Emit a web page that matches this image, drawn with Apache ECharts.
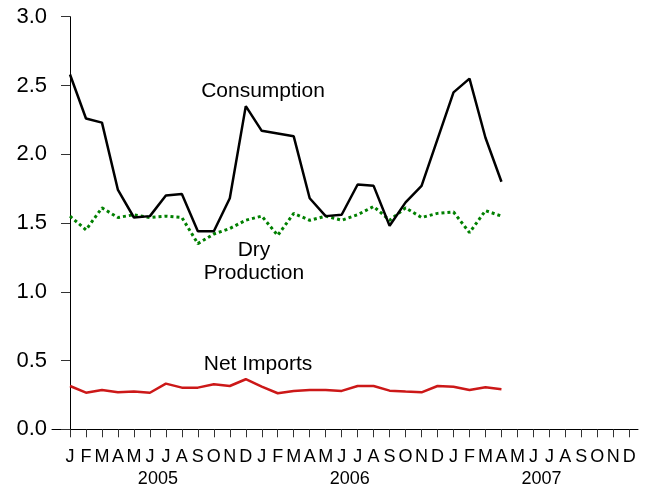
<!DOCTYPE html>
<html>
<head>
<meta charset="utf-8">
<script src="https://cdn.jsdelivr.net/npm/echarts@6/dist/echarts.min.js"></script>
<style>
html,body{margin:0;padding:0;background:#fff;}
#chart{width:647px;height:489px;}
</style>
</head>
<body>
<div id="chart"></div>
<script>
// Month letters for the axis (Jan 2005 .. Dec 2007)
var monthLetters = ['J','F','M','A','M','J','J','A','S','O','N','D'];
var years = ['2005','2006','2007'];
var yTicks = [0, 0.5, 1.0, 1.5, 2.0, 2.5, 3.0];

// Monthly values, Jan 2005 .. Apr 2007
var consumption = [2.58, 2.26, 2.23, 1.74, 1.54, 1.55, 1.70, 1.71, 1.44, 1.44, 1.68, 2.35,
                   2.17, 2.15, 2.13, 1.68, 1.55, 1.56, 1.78, 1.77, 1.48, 1.65, 1.77, 2.11,
                   2.45, 2.55, 2.12, 1.80];
var dryProduction = [1.55, 1.45, 1.61, 1.54, 1.56, 1.54, 1.55, 1.54, 1.35, 1.42, 1.46, 1.52,
                     1.55, 1.41, 1.57, 1.52, 1.55, 1.52, 1.56, 1.62, 1.52, 1.61, 1.54, 1.57,
                     1.58, 1.43, 1.59, 1.55];
var netImports = [0.315, 0.266, 0.286, 0.269, 0.274, 0.266, 0.332, 0.303, 0.303, 0.327, 0.315, 0.364,
                  0.31, 0.262, 0.279, 0.286, 0.286, 0.279, 0.315, 0.315, 0.281, 0.274, 0.269, 0.315,
                  0.31, 0.286, 0.305, 0.291];

var nMonths = monthLetters.length * years.length;
function idxArr(n){var a=[];for(var i=0;i<n;i++)a.push(i);return a;}
function pairs(arr){return arr.map(function(v,i){return [i,v];});}
var yearCenters = years.map(function(y,k){return k*12+5.5;});

var FONT = '"Liberation Sans", Arial, Helvetica, sans-serif';
var chart = echarts.init(document.getElementById('chart'));
var option = {
  animation:false,
  backgroundColor:'#ffffff',
  grid:{left:52,right:9,top:16.7,bottom:59.7,containLabel:false},
  xAxis:[{
    type:'value', min:-1.127, max:35.545,
    splitLine:{show:false},
    axisLine:{show:true,onZero:false,lineStyle:{color:'#000',width:1}},
    axisTick:{show:true,length:8,inside:false,customValues:idxArr(nMonths),lineStyle:{color:'#333',width:1}},
    axisLabel:{show:true,customValues:idxArr(nMonths),margin:19,color:'#000',fontFamily:FONT,fontSize:18,
      formatter:function(v){return monthLetters[Math.round(v)%12];}}
  },{
    type:'value', min:-1.127, max:35.545, position:'bottom',
    splitLine:{show:false},axisLine:{show:false},axisTick:{show:false},
    axisLabel:{show:true,customValues:yearCenters,margin:41,color:'#000',fontFamily:FONT,fontSize:18,
      formatter:function(v){return years[Math.round((v-5.5)/12)];}}
  }],
  yAxis:{
    type:'value', min:0, max:3, interval:0.5, offset:-9,
    splitLine:{show:false},
    axisLine:{show:true,lineStyle:{color:'#000',width:1}},
    axisTick:{show:true,length:9,lineStyle:{color:'#333',width:1}},
    axisLabel:{margin:14,color:'#000',fontFamily:FONT,fontSize:22,
      formatter:function(v){return v.toFixed(1);}}
  },
  series:[
    {name:'Net Imports',type:'line',data:pairs(netImports),showSymbol:false,symbol:'none',
      lineStyle:{color:'#cc1818',width:2.5},z:3},
    {name:'Dry Production',type:'line',data:pairs(dryProduction),showSymbol:false,symbol:'none',
      lineStyle:{color:'#008000',width:3,type:[3,3]},z:4},
    {name:'Consumption',type:'line',data:pairs(consumption),showSymbol:false,symbol:'none',
      lineStyle:{color:'#000000',width:2.5},z:5}
  ],
  graphic:[
    {type:'text',style:{text:'Consumption',x:263,y:91.5,align:'center',verticalAlign:'middle',font:'21px '+FONT,fill:'#000'}},
    {type:'text',style:{text:'Dry',x:254,y:250,align:'center',verticalAlign:'middle',font:'21px '+FONT,fill:'#000'}},
    {type:'text',style:{text:'Production',x:254,y:273.5,align:'center',verticalAlign:'middle',font:'21px '+FONT,fill:'#000'}},
    {type:'text',style:{text:'Net Imports',x:258,y:364,align:'center',verticalAlign:'middle',font:'21px '+FONT,fill:'#000'}}
  ]
};
chart.setOption(option);
</script>
</body>
</html>
